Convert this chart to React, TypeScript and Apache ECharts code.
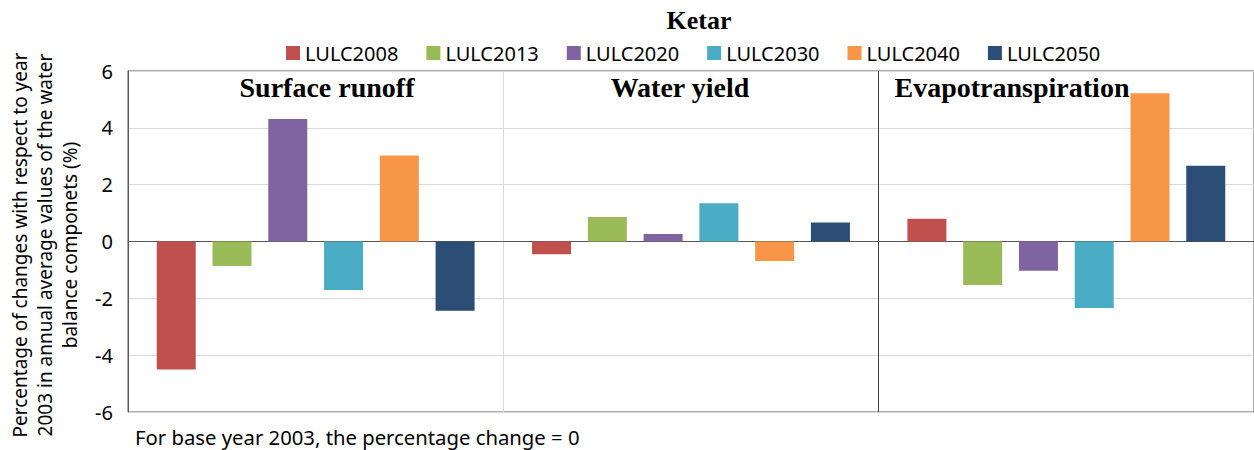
import { useEffect, useRef } from "react";
import * as echarts from "echarts";

const categories = ["Surface runoff", "Water yield", "Evapotranspiration"];
const seriesNames = ["LULC2008", "LULC2013", "LULC2020", "LULC2030", "LULC2040", "LULC2050"];
const lulc2008 = [-4.5, -0.45, 0.8];
const lulc2013 = [-0.86, 0.86, -1.53];
const lulc2020 = [4.31, 0.26, -1.03];
const lulc2030 = [-1.71, 1.35, -2.34];
const lulc2040 = [3.03, -0.69, 5.22];
const lulc2050 = [-2.44, 0.67, 2.67];
const seriesValues = [lulc2008, lulc2013, lulc2020, lulc2030, lulc2040, lulc2050];
const colors = ["#C0504D", "#9BBB59", "#8064A2", "#4BACC6", "#F79646", "#2C4D75"];
const yMin = -6;
const yMax = 6;
const yInterval = 2;
const chartTitle = "Ketar";
const yAxisName =
  "Percentage of changes with respect to year\n2003 in annual average values of the water\nbalance componets (%)";
const noteText = "For base year 2003, the percentage change = 0";

const sans = "'Noto Sans', 'Open Sans', sans-serif";
const serif = "'Liberation Serif', 'DejaVu Serif', serif";

export default function App() {
  const ref = useRef<HTMLDivElement>(null);

  useEffect(() => {
    if (!ref.current) return;
    const chart = echarts.init(ref.current, null, { renderer: "svg" });
    const panelTitleStyle = {
      fontFamily: serif,
      fontWeight: "bold",
      fontSize: 28,
      fill: "#000",
      textAlign: "center",
      textVerticalAlign: "middle",
    };
    chart.setOption({
      animation: false,
      backgroundColor: "#fff",
      color: colors,
      legend: {
        data: seriesNames,
        left: 286,
        top: 43,
        padding: 0,
        icon: "rect",
        itemWidth: 14,
        itemHeight: 14,
        itemGap: 28,
        textStyle: { fontFamily: sans, fontSize: 20, color: "#000" },
      },
      grid: {
        left: 128,
        top: 71,
        width: 1130,
        height: 341,
        show: true,
        borderColor: "#595959",
        borderWidth: 1,
        containLabel: false,
      },
      xAxis: {
        type: "category",
        data: categories,
        boundaryGap: true,
        axisLine: { show: true, onZero: true, lineStyle: { color: "#595959", width: 1 } },
        axisTick: { show: false },
        axisLabel: { show: false },
        splitLine: {
          show: true,
          lineStyle: { color: ["#595959", "#d9d9d9", "#404040", "#595959"], width: 1 },
        },
      },
      yAxis: {
        type: "value",
        min: yMin,
        max: yMax,
        interval: yInterval,
        axisLine: { show: true, lineStyle: { color: "#595959", width: 1 } },
        axisTick: { show: false },
        axisLabel: { fontFamily: sans, fontSize: 20, color: "#000", margin: 15 },
        splitLine: { show: true, lineStyle: { color: "#d9d9d9", width: 1 } },
      },
      series: seriesNames.map((name, i) => ({
        name,
        type: "bar",
        data: seriesValues[i],
        barWidth: 39,
        barGap: "43%",
        itemStyle: { color: colors[i] },
      })),
      graphic: [
        {
          type: "text",
          x: 699,
          y: 20,
          style: {
            text: chartTitle,
            fontFamily: serif,
            fontWeight: "bold",
            fontSize: 26,
            fill: "#000",
            textAlign: "center",
            textVerticalAlign: "middle",
          },
        },
        {
          type: "text",
          x: 45,
          y: 245,
          rotation: Math.PI / 2,
          style: {
            text: yAxisName,
            fontFamily: sans,
            fontSize: 19,
            lineHeight: 25,
            fill: "#000",
            textAlign: "center",
            textVerticalAlign: "middle",
          },
        },
        { type: "text", x: 327, y: 87, style: { ...panelTitleStyle, text: categories[0] } },
        { type: "text", x: 680, y: 87, style: { ...panelTitleStyle, text: categories[1] } },
        { type: "text", x: 1012, y: 87, style: { ...panelTitleStyle, text: categories[2] } },
        {
          type: "text",
          x: 135,
          y: 437,
          style: {
            text: noteText,
            fontFamily: sans,
            fontSize: 20.3,
            fill: "#000",
            textAlign: "left",
            textVerticalAlign: "middle",
          },
        },
      ],
    });
    return () => chart.dispose();
  }, []);

  return (
    <div
      ref={ref}
      style={{ position: "absolute", left: 0, top: 0, width: 1254, height: 450 }}
    />
  );
}
